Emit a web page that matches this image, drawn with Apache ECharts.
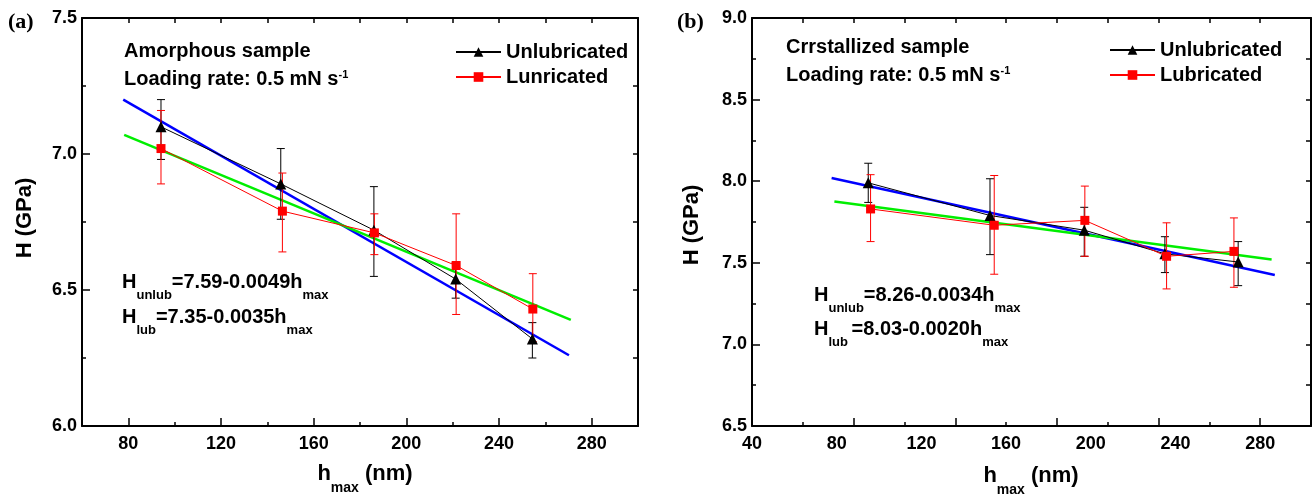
<!DOCTYPE html>
<html>
<head>
<meta charset="utf-8">
<script src="https://cdn.jsdelivr.net/npm/echarts@6/dist/echarts.min.js"></script>
<style>
  html, body { margin: 0; padding: 0; background: #fff; }
  #chart { width: 1314px; height: 494px; }
</style>
</head>
<body>
<div id="chart"></div>
<script>
// ---- panel (a): amorphous sample ----
const hUnlubA = [94.1, 145.8, 186.0, 221.3, 254.4];
const HUnlubA = [7.10, 6.89, 6.72, 6.54, 6.32];
const lowUnlubA = [6.98, 6.76, 6.55, 6.47, 6.25];
const highUnlubA = [7.20, 7.02, 6.88, 6.60, 6.38];

const hLubA = [94.1, 146.5, 186.2, 221.5, 254.6];
const HLubA = [7.02, 6.79, 6.71, 6.59, 6.43];
const lowLubA = [6.89, 6.64, 6.63, 6.41, 6.31];
const highLubA = [7.16, 6.93, 6.78, 6.78, 6.56];

const fitUnlubA = [[77.8, 7.20], [270.2, 6.26]];
const fitLubA = [[78.2, 7.07], [271.0, 6.39]];

// ---- panel (b): crystallized sample ----
const hUnlubB = [94.9, 152.4, 196.9, 235.0, 269.6];
const HUnlubB = [7.99, 7.79, 7.70, 7.555, 7.505];
const lowUnlubB = [7.87, 7.55, 7.54, 7.44, 7.36];
const highUnlubB = [8.11, 8.015, 7.84, 7.66, 7.63];

const hLubB = [96.0, 154.4, 197.2, 235.8, 267.6];
const HLubB = [7.83, 7.73, 7.76, 7.54, 7.57];
const lowLubB = [7.63, 7.43, 7.54, 7.34, 7.35];
const highLubB = [8.04, 8.035, 7.97, 7.745, 7.775];

const fitUnlubB = [[77.6, 8.02], [286.9, 7.425]];
const fitLubB = [[78.9, 7.876], [285.4, 7.52]];

// axis ticks / labels
const xLabelsA = [80, 120, 160, 200, 240, 280];
const xMinorA = [100, 140, 180, 220, 260];
const xTopA = [80, 100, 120, 140, 160, 180, 200, 220, 240, 260, 280];
const xLabelsB = [40, 80, 120, 160, 200, 240, 280];
const xMajorB = [88, 136, 184, 232, 280];
const xMinorB = [64, 112, 160, 208, 256];
const xTopB = [64, 88, 112, 136, 160, 184, 208, 232, 256, 280];

const FONT = "'Liberation Sans', Arial, sans-serif";
const BLACK = '#000000';
const RED = '#ff0000';

const zip = (xs, ys) => xs.map((x, i) => [x, ys[i]]);
const zip3 = (xs, lo, hi) => xs.map((x, i) => [x, lo[i], hi[i]]);

function errorBars(color) {
  return function (params, api) {
    const x = api.value(0);
    const lo = api.coord([x, api.value(1)]);
    const hi = api.coord([x, api.value(2)]);
    const w = 4;
    const style = { stroke: color, lineWidth: 1 };
    return {
      type: 'group',
      children: [
        { type: 'line', shape: { x1: lo[0], y1: lo[1], x2: hi[0], y2: hi[1] }, style },
        { type: 'line', shape: { x1: lo[0] - w, y1: lo[1], x2: lo[0] + w, y2: lo[1] }, style },
        { type: 'line', shape: { x1: hi[0] - w, y1: hi[1], x2: hi[0] + w, y2: hi[1] }, style },
      ],
    };
  };
}

const lineStyleAxis = { color: BLACK, width: 2 };
const labelStyle = { color: BLACK, fontFamily: FONT, fontWeight: 'bold', fontSize: 18 };

function xMain(grid, min, max, labels, ticks, tickLen) {
  return {
    gridIndex: grid, type: 'value', position: 'bottom', min, max,
    axisLine: { show: true, onZero: false, lineStyle: lineStyleAxis },
    axisTick: { show: true, inside: true, length: tickLen, customValues: ticks, lineStyle: { color: BLACK, width: 1.5 } },
    axisLabel: { show: true, customValues: labels, margin: 9, ...labelStyle },
    splitLine: { show: false },
  };
}
function xExtra(grid, min, max, position, ticks, len, showLine) {
  return {
    gridIndex: grid, type: 'value', position, min, max,
    axisLine: { show: showLine, onZero: false, lineStyle: lineStyleAxis },
    axisTick: { show: true, inside: true, length: len, customValues: ticks, lineStyle: { color: BLACK, width: 1.5 } },
    axisLabel: { show: false },
    splitLine: { show: false },
  };
}
function yLeft(grid, min, max) {
  return {
    gridIndex: grid, type: 'value', position: 'left', min, max, interval: 0.5,
    axisLine: { show: true, onZero: false, lineStyle: lineStyleAxis },
    axisTick: { show: true, inside: true, length: 8, lineStyle: { color: BLACK, width: 1.5 } },
    minorTick: { show: true, splitNumber: 2, length: 4, lineStyle: { color: BLACK, width: 1.5 } },
    axisLabel: { margin: 5, formatter: (v) => v.toFixed(1), ...labelStyle },
    splitLine: { show: false },
  };
}
function yRight(grid, min, max) {
  return {
    gridIndex: grid, type: 'value', position: 'right', min, max, interval: 0.25,
    axisLine: { show: true, onZero: false, lineStyle: lineStyleAxis },
    axisTick: { show: true, inside: true, length: 5, lineStyle: { color: BLACK, width: 1.5 } },
    axisLabel: { show: false },
    splitLine: { show: false },
  };
}

function panelSeries(xi, yi, d) {
  return [
    { type: 'line', xAxisIndex: xi, yAxisIndex: yi, data: d.fitU, symbol: 'none', z: 2,
      lineStyle: { color: '#0000ff', width: 2.5 } },
    { type: 'line', xAxisIndex: xi, yAxisIndex: yi, data: d.fitL, symbol: 'none', z: 2,
      lineStyle: { color: '#00ee00', width: 2.5 } },
    { type: 'custom', xAxisIndex: xi, yAxisIndex: yi, data: d.errU, renderItem: errorBars(BLACK), z: 3 },
    { type: 'custom', xAxisIndex: xi, yAxisIndex: yi, data: d.errL, renderItem: errorBars(RED), z: 3 },
    { name: 'Unlubricated', type: 'line', xAxisIndex: xi, yAxisIndex: yi, data: d.unlub, z: 4,
      symbol: 'triangle', symbolSize: 11, itemStyle: { color: BLACK },
      lineStyle: { color: BLACK, width: 1 } },
    { name: d.lubName, type: 'line', xAxisIndex: xi, yAxisIndex: yi, data: d.lub, z: 4,
      symbol: 'rect', symbolSize: 9, itemStyle: { color: RED },
      lineStyle: { color: RED, width: 1 } },
  ];
}

// rich styles: m = main text, s = subscript, p = superscript
function rich(main, sub) {
  return {
    m: { fontFamily: FONT, fontWeight: 'bold', fontSize: main, lineHeight: 22, verticalAlign: 'top', fill: BLACK },
    s: { fontFamily: FONT, fontWeight: 'bold', fontSize: sub, lineHeight: 30, verticalAlign: 'bottom', fill: BLACK },
    p: { fontFamily: FONT, fontWeight: 'bold', fontSize: 11, lineHeight: 12, verticalAlign: 'top', fill: BLACK },
  };
}
function txt(x, y, text) {
  return {
    type: 'text', x, y, silent: true,
    style: { text, rich: rich(20, 13), verticalAlign: 'top', textAlign: 'left' },
  };
}
function xTitle(x, y) {
  return {
    type: 'text', x, y, silent: true,
    style: { text: '{m|h}{s|max}{m| (nm)}', textAlign: 'center', verticalAlign: 'top',
      rich: {
        m: { fontFamily: FONT, fontWeight: 'bold', fontSize: 22, lineHeight: 24, verticalAlign: 'top', fill: BLACK },
        s: { fontFamily: FONT, fontWeight: 'bold', fontSize: 14, lineHeight: 32, verticalAlign: 'bottom', fill: BLACK },
      } },
  };
}
function yTitle(x, y) {
  return {
    type: 'text', x, y, rotation: Math.PI / 2, silent: true,
    style: { text: 'H (GPa)', font: 'bold 22px ' + FONT, fill: BLACK, textAlign: 'center', verticalAlign: 'middle' },
  };
}

const chart = echarts.init(document.getElementById('chart'), null, { renderer: 'canvas' });

const option = {
  animation: false,
  backgroundColor: '#ffffff',
  grid: [
    { left: 82, top: 18, width: 556, height: 408 },
    { left: 752, top: 18, width: 559, height: 408 },
  ],
  xAxis: [
    xMain(0, 60, 300, xLabelsA, xLabelsA, 8),
    xExtra(0, 60, 300, 'bottom', xMinorA, 4, false),
    xExtra(0, 60, 300, 'top', xTopA, 5, true),
    xMain(1, 40, 304, xLabelsB, xMajorB, 8),
    xExtra(1, 40, 304, 'bottom', xMinorB, 4, false),
    xExtra(1, 40, 304, 'top', xTopB, 5, true),
  ],
  yAxis: [
    yLeft(0, 6.0, 7.5),
    yRight(0, 6.0, 7.5),
    yLeft(1, 6.5, 9.0),
    yRight(1, 6.5, 9.0),
  ],
  legend: [
    { data: ['Unlubricated', 'Lunricated'], orient: 'vertical', left: 455, top: 42, padding: 0,
      itemWidth: 45, itemHeight: 12, itemGap: 5, selectedMode: false,
      textStyle: { fontFamily: FONT, fontWeight: 'bold', fontSize: 20, color: BLACK, lineHeight: 20 } },
    { data: ['Unlubricated', 'Lubricated'], orient: 'vertical', left: 1109, top: 40, padding: 0,
      itemWidth: 45, itemHeight: 12, itemGap: 5, selectedMode: false,
      textStyle: { fontFamily: FONT, fontWeight: 'bold', fontSize: 20, color: BLACK, lineHeight: 20 } },
  ],
  series: [
    ...panelSeries(0, 0, {
      fitU: fitUnlubA, fitL: fitLubA,
      errU: zip3(hUnlubA, lowUnlubA, highUnlubA), errL: zip3(hLubA, lowLubA, highLubA),
      unlub: zip(hUnlubA, HUnlubA), lub: zip(hLubA, HLubA), lubName: 'Lunricated',
    }),
    ...panelSeries(3, 2, {
      fitU: fitUnlubB, fitL: fitLubB,
      errU: zip3(hUnlubB, lowUnlubB, highUnlubB), errL: zip3(hLubB, lowLubB, highLubB),
      unlub: zip(hUnlubB, HUnlubB), lub: zip(hLubB, HLubB), lubName: 'Lubricated',
    }),
  ],
  graphic: [
    // panel labels
    { type: 'text', x: 8, y: 11, silent: true,
      style: { text: '(a)', font: "bold 22px 'Liberation Serif', 'Times New Roman', serif", fill: BLACK } },
    { type: 'text', x: 677, y: 11, silent: true,
      style: { text: '(b)', font: "bold 22px 'Liberation Serif', 'Times New Roman', serif", fill: BLACK } },

    // panel (a) notes
    txt(124, 41, '{m|Amorphous sample}'),
    txt(124, 69, '{m|Loading rate: 0.5 mN s}{p|-1}'),
    txt(122, 272, '{m|H}{s|unlub}{m|=7.59-0.0049h}{s|max}'),
    txt(122, 307, '{m|H}{s|lub}{m|=7.35-0.0035h}{s|max}'),

    // panel (b) notes
    txt(786, 37, '{m|Crrstallized sample}'),
    txt(786, 65, '{m|Loading rate: 0.5 mN s}{p|-1}'),
    txt(814, 285, '{m|H}{s|unlub}{m|=8.26-0.0034h}{s|max}'),
    txt(814, 319, '{m|H}{s|lub }{m|=8.03-0.0020h}{s|max}'),

    // axis titles
    yTitle(25, 218),
    yTitle(692, 225),
    xTitle(365, 463),
    xTitle(1031, 465),
  ],
};

chart.setOption(option);
</script>
</body>
</html>
